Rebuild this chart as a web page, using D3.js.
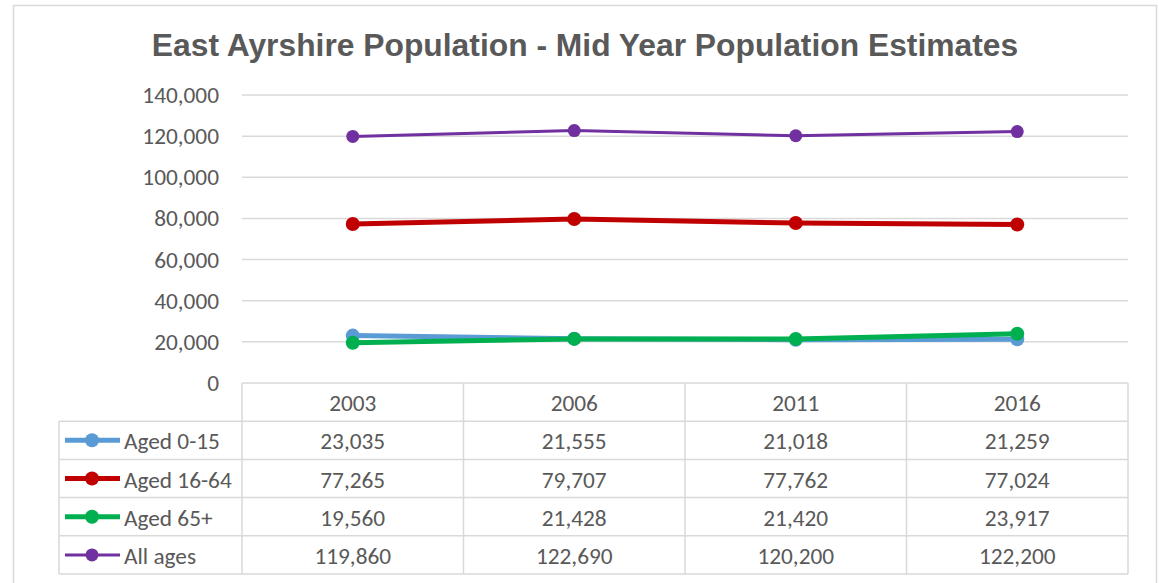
<!DOCTYPE html>
<html><head><meta charset="utf-8">
<script src="https://cdn.jsdelivr.net/npm/d3@7"></script>
<style>body{margin:0;background:#fff;}svg{display:block;}</style>
</head><body>
<svg id="c" width="1159" height="583"></svg>
<script>
const categories = ["2003", "2006", "2011", "2016"];
const seriesNames = ["Aged 0-15", "Aged 16-64", "Aged 65+", "All ages"];
const aged0to15 = [23035, 21555, 21018, 21259];
const aged16to64 = [77265, 79707, 77762, 77024];
const aged65plus = [19560, 21428, 21420, 23917];
const allAges = [119860, 122690, 120200, 122200];
const yTicks = [0, 20000, 40000, 60000, 80000, 100000, 120000, 140000];
const title = "East Ayrshire Population - Mid Year Population Estimates";

const colors = ["#5B9BD5", "#C00000", "#00B050", "#7030A0"];
const widths = [5, 5, 5, 3];
const radii = [7, 7, 7, 6.5];
const seriesValues = [aged0to15, aged16to64, aged65plus, allAges];

const svg = d3.select("#c");
const font = "Carlito, Calibri, Lato, sans-serif";
const fs = 23.3;
const txt = "#595959", gridC = "#d9d9d9";

svg.append("rect").attr("x", 13.5).attr("y", 5.5).attr("width", 1143).attr("height", 600)
  .attr("fill", "#fff").attr("stroke", gridC).attr("stroke-width", 1.5);

svg.append("text").attr("x", 585).attr("y", 56).attr("text-anchor", "middle")
  .attr("font-family", "'Liberation Sans', Arial, sans-serif").attr("font-weight", "bold")
  .attr("font-size", 31.8).attr("fill", txt).text(title);

const left = 242, right = 1128;
const x = d3.scaleBand().domain(categories).range([left, right]);
const y = d3.scaleLinear().domain([0, 140000]).range([383, 95]);

svg.append("g").selectAll("line").data(yTicks.filter(d => d > 0)).join("line")
  .attr("x1", left).attr("x2", right).attr("y1", d => y(d)).attr("y2", d => y(d))
  .attr("stroke", gridC).attr("stroke-width", 1.5);

const fmt = d3.format(",");
svg.append("g").selectAll("text").data(yTicks).join("text")
  .attr("x", 219).attr("y", d => y(d)).attr("text-anchor", "end")
  .attr("dominant-baseline", "central").attr("font-family", font).attr("font-size", fs)
  .attr("fill", txt).text(d => d === 0 ? "0" : fmt(d));

const line = d3.line().x((d, i) => x(categories[i]) + x.bandwidth() / 2).y(d => y(d));
seriesValues.forEach((vals, s) => {
  const g = svg.append("g");
  g.append("path").attr("d", line(vals)).attr("fill", "none")
    .attr("stroke", colors[s]).attr("stroke-width", widths[s]).attr("stroke-linejoin", "round");
  g.selectAll("circle").data(vals).join("circle")
    .attr("cx", (d, i) => x(categories[i]) + x.bandwidth() / 2).attr("cy", d => y(d))
    .attr("r", radii[s]).attr("fill", colors[s]);
});

const rowH = 38.2;
const top0 = 383;
const tableLeft = 59;
const tg = svg.append("g");
tg.append("line").attr("x1", left).attr("x2", right).attr("y1", top0).attr("y2", top0).attr("stroke", gridC).attr("stroke-width", 1.5);
for (let r = 1; r <= seriesNames.length + 1; r++) {
  tg.append("line").attr("x1", tableLeft).attr("x2", right).attr("y1", top0 + r * rowH).attr("y2", top0 + r * rowH)
    .attr("stroke", gridC).attr("stroke-width", 1.5);
}
const colEdges = categories.map(c => x(c)).concat([right]);
colEdges.forEach(cx => {
  tg.append("line").attr("x1", cx).attr("x2", cx).attr("y1", top0).attr("y2", top0 + (seriesNames.length + 1) * rowH)
    .attr("stroke", gridC).attr("stroke-width", 1.5);
});
tg.append("line").attr("x1", tableLeft).attr("x2", tableLeft).attr("y1", top0 + rowH).attr("y2", top0 + (seriesNames.length + 1) * rowH)
  .attr("stroke", gridC).attr("stroke-width", 1.5);

tg.selectAll("text.hdr").data(categories).join("text").attr("class", "hdr")
  .attr("x", d => x(d) + x.bandwidth() / 2).attr("y", top0 + rowH / 2 + 1)
  .attr("text-anchor", "middle").attr("dominant-baseline", "central")
  .attr("font-family", font).attr("font-size", fs).attr("fill", txt).text(d => d);

seriesNames.forEach((name, s) => {
  const cy = top0 + (s + 1) * rowH + rowH / 2;
  tg.append("line").attr("x1", 65).attr("x2", 120).attr("y1", cy).attr("y2", cy)
    .attr("stroke", colors[s]).attr("stroke-width", widths[s]);
  tg.append("circle").attr("cx", 92).attr("cy", cy).attr("r", radii[s]).attr("fill", colors[s]);
  tg.append("text").attr("x", 124).attr("y", cy + 1).attr("dominant-baseline", "central")
    .attr("font-family", font).attr("font-size", fs).attr("fill", txt).text(name);
  tg.selectAll(null).data(seriesValues[s]).join("text")
    .attr("x", (d, i) => x(categories[i]) + x.bandwidth() / 2).attr("y", cy + 1)
    .attr("text-anchor", "middle").attr("dominant-baseline", "central")
    .attr("font-family", font).attr("font-size", fs).attr("fill", txt).text(d => fmt(d));
});
</script>
</body></html>
